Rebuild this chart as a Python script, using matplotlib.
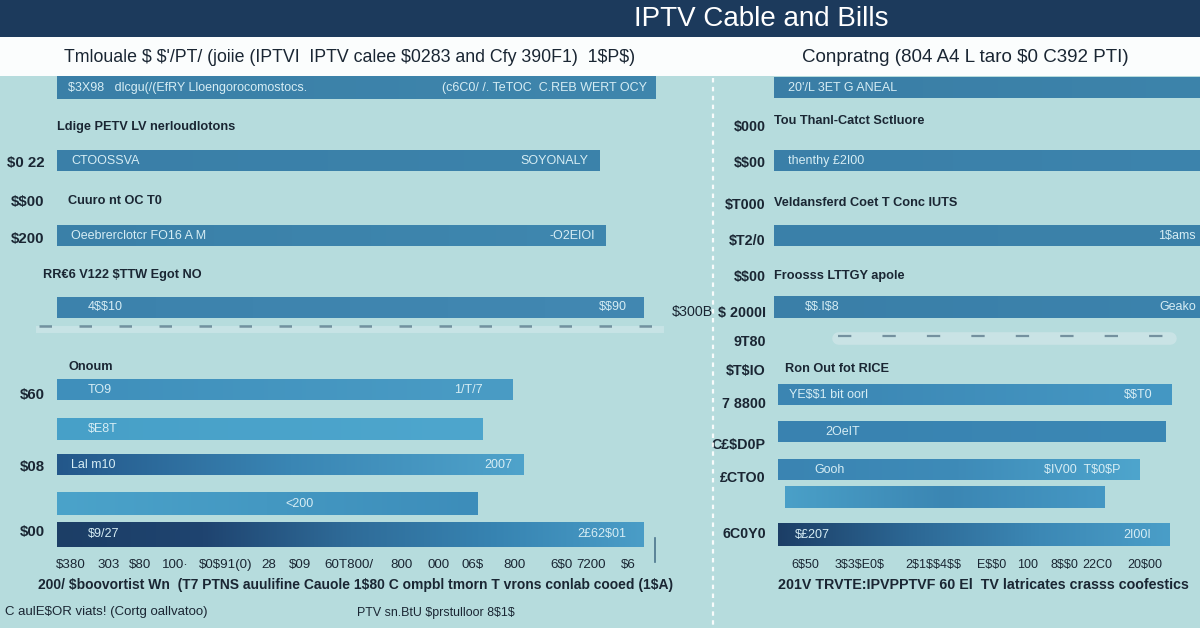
import numpy as np
import matplotlib
matplotlib.use('Agg')
import matplotlib.pyplot as plt
from matplotlib.patches import Rectangle
from matplotlib.lines import Line2D
from matplotlib.colors import LinearSegmentedColormap

plt.rcParams['font.family'] = ['Liberation Sans', 'DejaVu Sans']
plt.rcParams['text.parse_math'] = False

# --- 資料 ---
title = 'IPTV Cable and Bills'
left_subtitle = "Tmlouale $ $'/PT/ (joiie (IPTVI  IPTV calee $0283 and Cfy 390F1)  1$P$)"
right_subtitle = 'Conpratng (804 A4 L taro $0 C392 PTI)'

# left panel bars
left_values = [992, 900, 910, 973, 756, 706, 773, 697, 972]
left_inner = ['$3X98   dlcgu(/(EfRY Lloengorocomostocs.', 'CTOOSSVA', 'Oeebrerclotcr FO16 A M',
              '4$$10', 'TO9', '$E8T', 'Lal m10', '', '$9/27']
left_end = ['(c6C0/ /. TeTOC  C.REB WERT OCY', 'SOYONALY', '-O2EIOI', '$$90', '1/T/7', '',
            '2007', '<200', '2£62$01']
left_groups = ['Ldige PETV LV nerloudlotons', 'Cuuro nt OC T0', 'RR€6 V122 $TTW Egot NO', 'Onoum']
left_yticklabels = ['$0 22', '$$00', '$200', '$60', '$08', '$00']
left_xtick_vals = [23, 85, 138, 197, 279, 352, 403, 484, 572, 632, 690, 758, 836, 886, 947]
left_xtick_labels = ['$380', '303', '$80', '100·', '$0$91(0)', '28', '$09', '60T800/', '800', '000',
                     '06$', '800', '6$0', '7200', '$6']
left_xlabel = '200/ $boovortist Wn  (T7 PTNS auulifine Cauole 1$80 C ompbl tmorn T vrons conlab cooed (1$A)'

# right panel bars
right_starts = [0, 0, 0, 0, 10, 10, 10, 26, 10]
right_ends = [1050, 1050, 1050, 1050, 934, 920, 859, 777, 930]
right_inner = ['20\'/L 3ET G ANEAL', 'thenthy £2I00', '', '$$.I$8', 'YE$$1 bit oorl', '2OeIT', 'Gooh', '', '$£207']
right_end = ['', '', '1$ams', 'Geako', '$$T0', '', '$IV00  T$0$P', '', '2I00I']
right_groups = ['Tou Thanl-Catct Sctluore', 'Veldansferd Coet T Conc IUTS', 'Froosss LTTGY apole', 'Ron Out fot RICE']
right_yticklabels = ['$000', '$$00', '$T000', '$T2/0', '$$00', '$ 2000I', '9T80', '$T$IO', '7 8800',
                     'C£$D0P', '£CTO0', '6C0Y0']
right_xtick_vals = [73, 202, 373, 512, 596, 681, 758, 871]
right_xtick_labels = ['6$50', '3$3$E0$', '2$1$$4$$', 'E$$0', '100', '8$$0', '22C0', '20$00']
right_xlabel = '201V TRVTE:IPVPPTVF 60 El  TV latricates crasss coofestics'

note_left = 'C aulE$OR viats! (Cortg oallvatoo)'
note_mid = 'PTV sn.BtU $prstulloor 8$1$'
side_note = '$300B'

# --- 版面 (row units: 1 row = 37.5 px, row 0 = first bar) ---
left_bar_rows = [0, 1.95, 3.95, 5.85, 8.05, 9.1, 10.05, 11.1, 11.9]
left_bar_h = [0.6, 0.55, 0.55, 0.55, 0.55, 0.58, 0.55, 0.6, 0.66]
left_group_rows = [1.04, 3.01, 4.99, 7.44]
left_group_dx = [0, 8, -10, 8]
left_ytick_rows = [1.95, 3.01, 4.0, 8.16, 10.08, 11.79]
left_inner_dx = [4, 6, 6, 18, 18, 18, 6, 6, 18]
left_end_dx = [-6, -8, -8, -12, -22, -8, -8, -118, -12]
left_colors = [['#3a7fa7', '#3f86ad'], ['#3a7fa8', '#3c83ab'], ['#3a80a8', '#3f87af'],
               ['#3c82ac', '#4288b2'], ['#3f8fbb', '#4a9cc5'], ['#47a0c8', '#4ea6cd'],
               ['#23578a', '#3a86b4', '#4fa3cb'], ['#4ba3ca', '#3d8dba'],
               ['#1c3e66', '#1f4470', '#2f6c99', '#3784b2', '#4a9dc7']]

right_bar_rows = [0, 1.95, 3.95, 5.84, 8.19, 9.17, 10.19, 10.91, 11.92]
right_bar_h = [0.55, 0.55, 0.55, 0.58, 0.55, 0.55, 0.55, 0.58, 0.6]
right_group_rows = [0.87, 3.07, 5.01, 7.49]
right_group_dx = [0, 0, 0, 8]
right_ytick_rows = [0.99, 1.97, 3.07, 4.05, 5.01, 5.95, 6.72, 7.52, 8.4, 9.47, 10.37, 11.84]
right_inner_dx = [6, 6, 6, 18, 4, 30, 22, 6, 8]
right_end_dx = [-3, -3, -3, -3, -14, -3, -14, -3, -14]
right_colors = [['#3a7ea6', '#3d84ab'], ['#3a7fa8', '#3d84ad'], ['#3a80a9', '#3c82aa'],
                ['#3a7fa8', '#3c83ad'], ['#3b85b2', '#4598c4'], ['#3982b0', '#3b88b5'],
                ['#3a84b2', '#3e8bb8', '#4ea5cd'], ['#4aa0c8', '#3b86b3', '#4598c4'],
                ['#1c3e66', '#2c6794', '#3c88b5', '#4a9ec8']]

W, H = 1200, 628
ROW0, ROWH = 88, 37.5
AX_TOP, AX_BOT = 72, 552
BG = '#b6dcdd'
INK = '#1a2633'
LIGHT = '#d6edf4'


def fx(px):
    return px / W


def fy(py):
    return 1 - py / H


def grad_fill(ax, patch, colors):
    x0, y0 = patch.get_x(), patch.get_y()
    w, h = patch.get_width(), patch.get_height()
    cmap = LinearSegmentedColormap.from_list('g', colors)
    g = np.linspace(0, 1, 256).reshape(1, -1)
    ax.imshow(g, cmap=cmap, extent=(x0, x0 + w, y0 + h, y0), aspect='auto',
              zorder=2, clip_path=patch, clip_on=True, interpolation='bicubic')


def panel(ax, rows, starts, ends, heights, colors, inner, inner_dx, end, end_dx, xmax):
    bars = ax.barh(rows, np.array(ends) - np.array(starts), left=starts, height=heights,
                   color='none', edgecolor='none')
    for b, c in zip(bars, colors):
        grad_fill(ax, b, c)
    for r, s, e, t, dx in zip(rows, starts, ends, inner, inner_dx):
        if t:
            ax.annotate(t, xy=(s, r), xytext=(dx + 4, 0), textcoords='offset points',
                        va='center', ha='left', fontsize=9, color=LIGHT, zorder=3)
    for r, e, t, dx in zip(rows, ends, end, end_dx):
        if t:
            ax.annotate(t, xy=(min(e, xmax), r), xytext=(dx, 0), textcoords='offset points',
                        va='center', ha='right', fontsize=9, color=LIGHT, zorder=3)


def style_axes(ax, yrows, ylabels, xvals, xlabels, ysize, xsize, ypad):
    ax.set_facecolor('none')
    ax.set_xlim(0, 1000)
    ax.set_ylim((AX_BOT - ROW0) / ROWH, (AX_TOP - ROW0) / ROWH)
    ax.set_yticks(yrows, ylabels)
    ax.set_xticks(xvals, xlabels)
    ax.tick_params(axis='y', length=0, pad=ypad, labelsize=ysize, labelcolor=INK)
    ax.tick_params(axis='x', length=0, pad=5, labelsize=xsize, labelcolor=INK)
    for lab in ax.get_yticklabels():
        lab.set_fontweight('bold')
    for sp in ax.spines.values():
        sp.set_visible(False)


fig = plt.figure(figsize=(W / 100, H / 100), dpi=100)
fig.patch.set_facecolor(BG)

# header bars
fig.add_artist(Rectangle((0, fy(37)), 1, 37 / H, transform=fig.transFigure,
                         facecolor='#1c3a5c', edgecolor='none', zorder=5))
fig.add_artist(Rectangle((0, fy(76)), 1, 39 / H, transform=fig.transFigure,
                         facecolor='#fbfdfd', edgecolor='none', zorder=5))
fig.text(fx(761), fy(19), title, ha='center', va='center', fontsize=20,
         color='white', zorder=6)
fig.text(fx(350), fy(57), left_subtitle, ha='center', va='center', fontsize=12.8,
         color=INK, zorder=6)
fig.text(fx(965), fy(57), right_subtitle, ha='center', va='center', fontsize=13.5,
         color=INK, zorder=6)

# --- 左側面板 ---
axl = fig.add_axes([fx(57), fy(AX_BOT), fx(603), (AX_BOT - AX_TOP) / H])
panel(axl, left_bar_rows, [0] * len(left_values), left_values, left_bar_h, left_colors,
      left_inner, left_inner_dx, left_end, left_end_dx, 1000)
for r, t, dx in zip(left_group_rows, left_groups, left_group_dx):
    axl.annotate(t, xy=(0, r), xytext=(dx, 0), textcoords='offset points', va='center',
                 ha='left', fontsize=9.2, color=INK, fontweight='bold', annotation_clip=False)
# smeared streak under the fourth bar
axl.plot([-30, 1000], [6.42, 6.42], color='#d3e9eb', lw=5, alpha=0.6, zorder=1, clip_on=False)
axl.plot([-30, 1000], [6.35, 6.35], color='#2f4f66', lw=1.8, ls=(0, (5, 11)), alpha=0.55,
         zorder=1, clip_on=False)
style_axes(axl, left_ytick_rows, left_yticklabels, left_xtick_vals, left_xtick_labels,
           10.8, 9.6, 9)
fig.text(fx(356), fy(585), left_xlabel, ha='center', va='center', fontsize=10,
         fontweight='bold', color=INK)

# --- 右側面板 ---
axr = fig.add_axes([fx(774), fy(AX_BOT), fx(426), (AX_BOT - AX_TOP) / H])
panel(axr, right_bar_rows, right_starts, right_ends, right_bar_h, right_colors,
      right_inner, right_inner_dx, right_end, right_end_dx, 1000)
for r, t, dx in zip(right_group_rows, right_groups, right_group_dx):
    axr.annotate(t, xy=(0, r), xytext=(dx, 0), textcoords='offset points', va='center',
                 ha='left', fontsize=9.2, color=INK, fontweight='bold')
axr.plot([150, 930], [6.67, 6.67], color='#cfe5e8', lw=9, alpha=0.8, zorder=1,
         solid_capstyle='round')
axr.plot([150, 930], [6.6, 6.6], color='#2f4f66', lw=1.6, ls=(0, (6, 14)), alpha=0.55, zorder=1)
style_axes(axr, right_ytick_rows, right_yticklabels, right_xtick_vals, right_xtick_labels,
           10.3, 9, 6)
fig.text(fx(983), fy(585), right_xlabel, ha='center', va='center', fontsize=10.3,
         fontweight='bold', color=INK)

# divider and loose notes
fig.add_artist(Line2D([fx(713), fx(713)], [fy(78), 0], transform=fig.transFigure,
                      color='white', lw=1.6, ls=(0, (2, 2)), alpha=0.9))
fig.add_artist(Line2D([fx(655), fx(655)], [fy(538), fy(562)], transform=fig.transFigure,
                      color='#2f5a78', lw=1.2, alpha=0.8))
fig.text(fx(692), fy(312), side_note, ha='center', va='center', fontsize=10.3, color=INK)
fig.text(fx(5), fy(612), note_left, ha='left', va='center', fontsize=9.5, color=INK)
fig.text(fx(357), fy(613), note_mid, ha='left', va='center', fontsize=8.9, color=INK)

fig.savefig('out.png', dpi=100, facecolor=fig.get_facecolor())
